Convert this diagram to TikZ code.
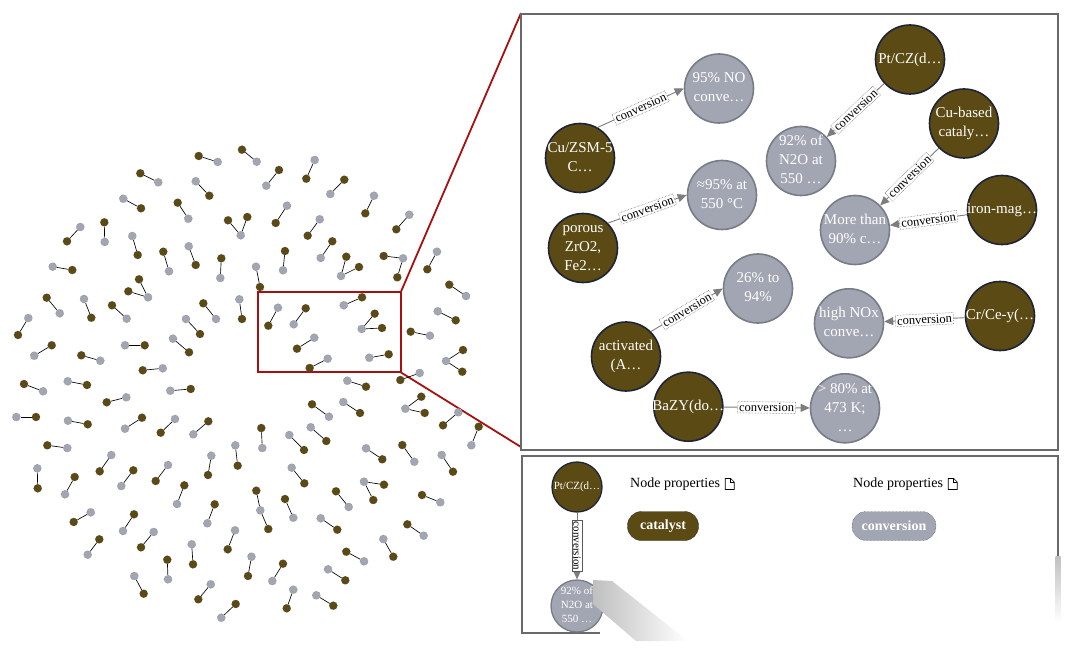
\documentclass[tikz,border=0pt]{standalone}
\usepackage{fontspec}
\setmainfont{Liberation Serif}
\usetikzlibrary{arrows.meta}
\definecolor{nbrown}{RGB}{92,74,20}
\definecolor{ngrey}{RGB}{162,166,178}
\definecolor{nborder}{RGB}{28,36,54}
\definecolor{gborder}{RGB}{120,124,134}
\definecolor{zred}{RGB}{168,16,16}
\definecolor{framegray}{RGB}{105,105,105}
\definecolor{edgegray}{RGB}{125,125,125}
\newcommand\nt[1]{\makebox[0pt]{\begin{tabular}{@{}c@{}}#1\end{tabular}}}
\begin{document}
\begin{tikzpicture}[x=1pt,y=-1pt,
  sb/.style={circle, fill=nbrown, draw=black!75, densely dotted, line width=0.4pt, minimum size=8.2pt, inner sep=0pt},
  sg/.style={circle, fill=ngrey, draw=black!55, densely dotted, line width=0.4pt, minimum size=8.2pt, inner sep=0pt},
  sl/.style={black, line width=0.65pt},
  bignode/.style={circle, minimum size=69pt, inner sep=0pt, text=white, font=\fontsize{15}{19}\selectfont, line width=1.6pt},
  cat/.style={bignode, fill=nbrown, draw=nborder},
  conv/.style={bignode, fill=ngrey, draw=gborder},
  rel/.style={draw=edgegray, line width=0.9pt, -{Triangle[length=9pt,width=8pt]}},
  lbl/.style={sloped, midway, fill=white, draw=black!65, densely dotted, line width=0.5pt, font=\fontsize{12.5}{13}\selectfont, inner sep=1.5pt, text=black},
  lblv/.style={midway, rotate=-90, fill=white, draw=black!65, line width=0.5pt, font=\fontsize{11}{12}\selectfont, inner sep=1.2pt, text=black},
  pill/.style={rectangle, rounded corners=14pt, minimum height=29pt, text=white, font=\bfseries\fontsize{14}{16}\selectfont, inner sep=0pt},
  ptitle/.style={anchor=west, font=\fontsize{14}{16}\selectfont, inner sep=0pt},
  docicon/.pic={\draw[line width=0.6pt, fill=white] (0,-5.5) -- (5.5,-5.5) -- (9,-2) -- (9,5.5) -- (0,5.5) -- cycle;
                \draw[line width=0.5pt] (5.5,-5.5) -- (5.5,-2) -- (9,-2);}
]
\useasboundingbox (0,0) rectangle (1073,652);

% zoom box and its guide lines
\coordinate (bx1) at (258,292.3);
\coordinate (bx2) at (400.7,372.3);
\coordinate (bx3) at (400.7,292.3);
\coordinate (pz1) at (521,13);
\coordinate (pz2) at (521,447);
\draw[zred, line width=1.8pt] (bx3) -- (pz1);
\draw[zred, line width=1.8pt] (bx2) -- (pz2);
\draw[zred, line width=2pt] (bx1) rectangle (bx2);

% overview scatter: pairs (catalyst, conversion)
\foreach \bx/\by/\gx/\gy [count=\i] in {
198.7/156/217.7/162, 242/149.7/256.7/161.7, 140.3/173.3/158.3/182.3, 209.3/195.7/195.7/181.3,
141/208.3/123.3/198.7, 177.7/202.7/188.3/218.7, 67/241.3/80.3/227, 104.3/222.3/104.7/242,
137.7/255/132.3/236, 163.3/251.7/169/271.3, 195.7/265/188.7/246.3, 221.3/258.3/220.3/278,
72.3/270/52.7/266.7, 46.7/297.7/59.7/313.3, 91.3/317.7/84/299, 112/305.3/126.7/318.7,
203.3/303.3/216/319, 242/319/239.3/299.3, 18/335/28.3/318, 200/334/186/319,
189/352.3/173/338.7, 51.7/345.3/34.3/355.7, 144.7/345.3/125/345.3, 81.3/355.3/100.3/360.7,
142.7/370.3/162.7/368.3, 24/384/43/391.3, 87/385/67.7/381.3, 306.3/178.7/314.7/160,
279/170/266.3/185.7, 344.3/179.7/330.3/194, 365.3/213.3/374/195.7, 275.7/223/287/205.7,
307.7/235.7/319.7/219.3, 396.3/229.3/409.3/214.7, 332.3/241.3/320.7/258, 285/251/283/270.3,
427.3/269.3/437/251.7, 260/287/256/266.7, 449.3/284.7/466/296, 268.3/325.7/278/307.7,
305.7/308.3/293.7/324.3, 362/297.3/343.7/305.3, 297/348.7/314.3/337.7, 309.7/368/327.7/358.7,
388.7/354.3/369.3/357.7, 455.7/320.3/437.7/311.3, 410.7/331.7/430/335.7, 366/386.7/347.3/380.7,
400.3/380/419.7/373, 190.7/389/170.3/390.7, 106.7/402.3/126.3/397.3, 36/417/16.3/417,
87.7/424.3/68/420.7, 142/417.7/125/428.7, 160.7/432.7/175/419, 208.3/421.3/193.3/434.3,
47.3/445.3/67.3/448, 99.7/471.3/111.3/455, 237.7/465.7/235.3/445.3, 208/475/211.3/455.7,
37.7/488.3/37.3/468.3, 74.7/477/65/494.3, 133.3/470.3/121.3/486, 155.7/481/168/465,
184.3/485.3/177/504, 214.7/504.3/207.3/523.3, 73.7/522/90.7/512.3, 134/514.3/123/531,
141/547.3/153.7/532, 227.7/549.3/235/530.3, 99.3/539.3/87.7/554.7, 193/564.3/191.7/544.3,
167.3/559.7/168/579.3, 248/576/251.5/556.7, 143.7/593.7/134.3/576, 198.3/599.3/210.7/584.3,
235.7/604/221.3/617.7, 443/425.3/458.3/412.3, 478.7/426.7/471.3/445.3, 312/404.3/329/416.7,
360/413/343.3/402, 261.3/428/262.3/448, 304/450/289.3/435, 326.3/441/310.7/427.3,
382.3/459.3/366/448.3, 402.3/445/414.3/461.7, 453/471.7/441.7/455, 304.3/483.3/291.7/467.7,
285/499/293.3/517.7, 336/491.3/348.7/507, 422/495/440.3/502.3, 337.3/529.7/320.7/518.3,
407.3/524.3/423.7/535.7, 393.3/556.7/383.3/539, 346.3/551.7/364/561.3, 283/563.7/272.3/581,
345.3/580.3/328/569.3, 286.7/608.3/293.3/589.7, 333.3/605.7/316.3/595.3}
{
  \node[sb] (sb\i) at (\bx,\by) {};
  \node[sg] (sg\i) at (\gx,\gy) {};
  \draw[sl] (sb\i) -- (sg\i);
}
% triples: one conversion node shared by two catalysts
\foreach \gx/\gy/\ax/\ay/\cx/\cy [count=\i] in {
240.7/235.3/228/220.3/247.3/217, 148/297.3/139/279.3/128.3/291.3,
341/276/346.3/256.7/359/267, 403/258.3/383.7/256/397.3/277.3,
361.7/329/374.7/313.7/382/328, 446/361/463/350/462.3/371.7,
405.3/408.7/421.3/396.7/424.7/413, 364/481.7/384/484.7/373.3/500,
260.3/510.3/256.3/490.7/268.3/529}
{
  \node[sg] (tg\i) at (\gx,\gy) {};
  \node[sb] (ta\i) at (\ax,\ay) {};
  \node[sb] (tc\i) at (\cx,\cy) {};
  \draw[sl] (tg\i) -- (ta\i);
  \draw[sl] (tg\i) -- (tc\i);
}

% zoom panel
\draw[framegray, line width=2pt, fill=white] (521,14) rectangle (1058,450);

\node[cat]  (cuzsm)   at (580,158)     {\nt{Cu/ZSM-5\\C…}};
\node[conv] (nox)     at (719,88.5)    {\nt{95\% NO\\conve…}};
\node[conv] (ap95)    at (722,195)     {\nt{≈95\% at\\550 °C}};
\node[cat]  (porous)  at (583,248)     {\nt{porous\\ZrO2,\\Fe2…}};
\node[cat]  (ptcz)    at (910,59.5)    {\nt{Pt/CZ(d…}};
\node[conv] (n2o)     at (801,161)     {\nt{92\% of\\N2O at\\550 …}};
\node[cat]  (cubased) at (964,123.5)   {\nt{Cu-based\\cataly…}};
\node[conv] (more)    at (855,230)     {\nt{More than\\90\% c…}};
\node[cat]  (iron)    at (1002,210)    {\nt{iron-mag…}};
\node[conv] (t26)     at (758,288.5)   {\nt{26\% to\\94\%}};
\node[cat]  (activ)   at (626,356.5)   {\nt{activated\\(A…}};
\node[conv] (hnox)    at (849,323.3)   {\nt{high NOx\\conve…}};
\node[cat]  (crce)    at (1000,316)    {\nt{Cr/Ce-y(…}};
\node[cat]  (bazy)    at (688.3,406.7) {\nt{BaZY(do…}};
\node[conv] (gt80)    at (845,408.3)   {\nt{> 80\% at\\473 K;\\…}};

\draw[rel] (cuzsm.60)  -- node[lbl]{conversion} (nox.180);
\draw[rel] (porous.45) -- node[lbl]{conversion} (ap95.180);
\draw[rel] (ptcz)      -- node[lbl]{conversion} (n2o);
\draw[rel] (cubased)   -- node[lbl]{conversion} (more);
\draw[rel] (iron)      -- node[lbl]{conversion} (more);
\draw[rel] (activ.45)  -- node[lbl]{conversion} (t26.180);
\draw[rel] (crce)      -- node[lbl]{conversion} (hnox);
\draw[rel] (bazy)      -- node[lbl]{conversion} (gt80);

% legend panel
\draw[framegray, line width=2pt] (600,633) -- (522,633) -- (522,456) -- (1058,456) -- (1058,556);
\node[cat, minimum size=50pt, font=\fontsize{11}{14}\selectfont, line width=1.3pt] (lpt) at (577,487) {\nt{Pt/CZ(d…}};
\node[conv, minimum size=52pt, font=\fontsize{11}{14}\selectfont, line width=1.3pt] (ln2o) at (577,606) {\nt{92\% of\\N2O at\\550 …}};
\draw[rel] (lpt) -- node[lblv]{conversion} (ln2o);

\node[ptitle] (np1) at (630,484) {Node properties};
\pic at ([xshift=5pt]np1.east) {docicon};
\node[ptitle] (np2) at (853,484) {Node properties};
\pic at ([xshift=5pt]np2.east) {docicon};

\node[pill, fill=nbrown, draw=black!80, minimum width=71pt] (pcat) at (663,526) {catalyst};
\node[pill, fill=ngrey, draw=black!80, densely dotted, minimum width=84pt] (pconv) at (894,526) {conversion};

% blur smudges of the screenshot
\shade[left color=gray!50, right color=white] (593,580) -- (612,581) -- (688,641) -- (636,641) -- (593,604) -- cycle;
\shade[top color=gray!50, bottom color=white] (1055.5,556) rectangle (1060.5,622);
\end{tikzpicture}
\end{document}
